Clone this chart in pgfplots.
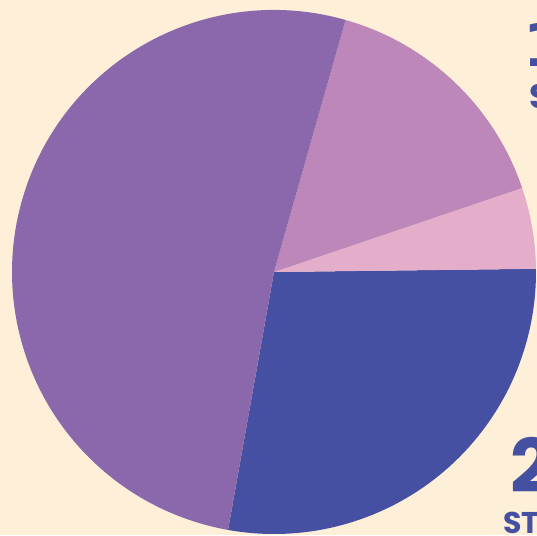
\documentclass[border=0pt]{standalone}
\usepackage{pgfplots}
\pgfplotsset{compat=1.18}
\usepackage{fontspec}
\newfontfamily\pop{Poppins}
\newfontfamily\dejavu{DejaVu Sans}
\definecolor{bg}{RGB}{254,240,216}
\definecolor{cPurple}{RGB}{139,104,171}
\definecolor{cMauve}{RGB}{189,135,186}
\definecolor{cPink}{RGB}{228,174,203}
\definecolor{cBlue}{RGB}{70,80,163}
\begin{document}
\begin{tikzpicture}
\path[use as bounding box, clip] (0,0) rectangle (537pt,535pt);
\fill[bg] (0,0) rectangle (537pt,535pt);
\begin{axis}[at={(0,0)}, anchor=south west, scale only axis,
  width=537pt, height=535pt, xmin=0, xmax=537, ymin=0, ymax=535,
  hide axis, clip=false]
% shares (percent): blue 28, pink 5, mauve 15.4, purple 51.6; first slice starts at 259.9 deg
\fill[cBlue]   (axis cs:274,263) -- ++(259.9:262pt) arc[start angle=259.9, delta angle=28*3.6, radius=262pt] -- cycle;
\fill[cPink]   (axis cs:274,263) -- ++(360.7:262pt) arc[start angle=360.7, delta angle=5*3.6, radius=262pt] -- cycle;
\fill[cMauve]  (axis cs:274,263) -- ++(378.7:262pt) arc[start angle=378.7, delta angle=15.4*3.6, radius=262pt] -- cycle;
\fill[cPurple] (axis cs:274,263) -- ++(434.14:262pt) arc[start angle=434.14, delta angle=51.6*3.6, radius=262pt] -- cycle;
\node[anchor=base west, inner sep=0pt, text=cBlue, font=\fontsize{60}{60}\dejavu\bfseries] at (axis cs:523,468) {1};
\node[anchor=base west, inner sep=0pt, text=cBlue, font=\fontsize{34}{34}\pop\bfseries] at (axis cs:529,426) {S};
\node[anchor=base west, inner sep=0pt, text=cBlue, font=\fontsize{74}{74}\pop\bfseries] at (axis cs:510,43) {2};
\node[anchor=base west, inner sep=0pt, text=cBlue, font=\fontsize{30}{30}\pop\bfseries] at (axis cs:503,2) {ST};
\end{axis}
\end{tikzpicture}
\end{document}
